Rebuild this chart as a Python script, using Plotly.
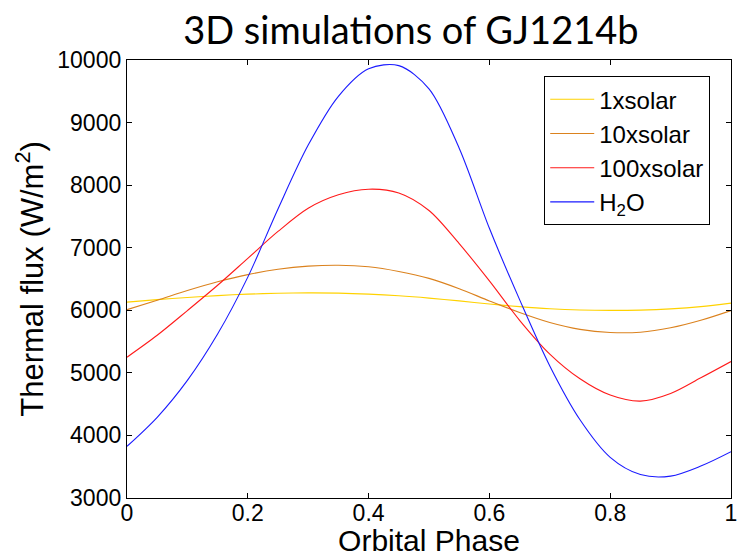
import plotly.graph_objects as go

# Orbital phase sample points
phase = [0.00, 0.05, 0.10, 0.15, 0.20, 0.25, 0.30, 0.35, 0.40, 0.45,
         0.50, 0.55, 0.60, 0.65, 0.70, 0.75, 0.80, 0.85, 0.90, 0.95, 1.00]

# Thermal flux (W/m^2) for each atmospheric composition
flux_1x = [6130, 6170, 6205, 6235, 6258, 6272, 6278, 6274, 6258, 6232,
           6195, 6150, 6100, 6058, 6025, 6005, 5998, 6003, 6022, 6058, 6115]
flux_10x = [6010, 6160, 6315, 6455, 6570, 6655, 6705, 6720, 6695, 6620,
            6510, 6345, 6150, 5965, 5805, 5695, 5645, 5650, 5720, 5840, 5995]
flux_100x = [5250, 5600, 5995, 6400, 6830, 7260, 7630, 7845, 7935, 7875,
             7595, 7065, 6470, 5840, 5300, 4905, 4645, 4548, 4670, 4920, 5180]
flux_h2o = [3826, 4290, 4880, 5620, 6530, 7620, 8640, 9420, 9860, 9910,
            9540, 8590, 7310, 6170, 5110, 4250, 3650, 3375, 3350, 3510, 3740]

series_names = ["1xsolar", "10xsolar", "100xsolar", "H<sub>2</sub>O"]
series_colors = ["#FFD200", "#DB821E", "#FF1A1A", "#1A1AFF"]
series_values = [flux_1x, flux_10x, flux_100x, flux_h2o]

x_ticks = [0, 0.2, 0.4, 0.6, 0.8, 1]
x_ticktext = ["0", "0.2", "0.4", "0.6", "0.8", "1"]
y_ticks = [3000, 4000, 5000, 6000, 7000, 8000, 9000, 10000]

FONT = "Liberation Sans, Arial, sans-serif"

fig = go.Figure()
for i, (name, color, vals) in enumerate(zip(series_names, series_colors, series_values)):
    fig.add_trace(go.Scatter(
        x=phase, y=vals, mode="lines", name=name,
        line=dict(color=color, width=1.1, shape="spline", smoothing=0.9),
        legendgroup=f"g{i}",
    ))

axis_common = dict(
    showgrid=False, zeroline=False,
    showline=True, linecolor="black", linewidth=1.3, mirror="ticks",
    ticks="inside", ticklen=5, tickwidth=1, tickcolor="black",
    tickfont=dict(family=FONT, size=23, color="black"),
    ticklabeloverflow="allow",
)

fig.update_layout(
    width=739, height=557,
    margin=dict(l=127, r=2, t=60, b=59),
    paper_bgcolor="white", plot_bgcolor="white",
    title=dict(
        text="3D simulations of GJ1214b",
        font=dict(family="Lato, Open Sans, sans-serif", size=38, color="black"),
        x=0.47, xref="paper", xanchor="center",
        y=0.945, yref="container", yanchor="middle",
    ),
    xaxis=dict(
        range=[0, 1], tickvals=x_ticks, ticktext=x_ticktext,
        ticklabelstandoff=-6,
        title=dict(text="Orbital Phase", font=dict(family=FONT, size=30, color="black"), standoff=2),
        **axis_common,
    ),
    yaxis=dict(
        range=[3000, 10000], tickvals=y_ticks, tickformat="d",
        title=dict(text="Thermal flux (W/m<sup>2</sup>)", font=dict(family=FONT, size=31, color="black"), standoff=4),
        **axis_common,
    ),
    legend=dict(
        x=0.9656, xanchor="right", y=0.963, yanchor="top",
        bgcolor="white", bordercolor="black", borderwidth=1,
        font=dict(family=FONT, size=24, color="black"),
        traceorder="grouped", tracegroupgap=0, itemwidth=44,
    ),
    showlegend=True,
)

fig.write_html("out.html")
